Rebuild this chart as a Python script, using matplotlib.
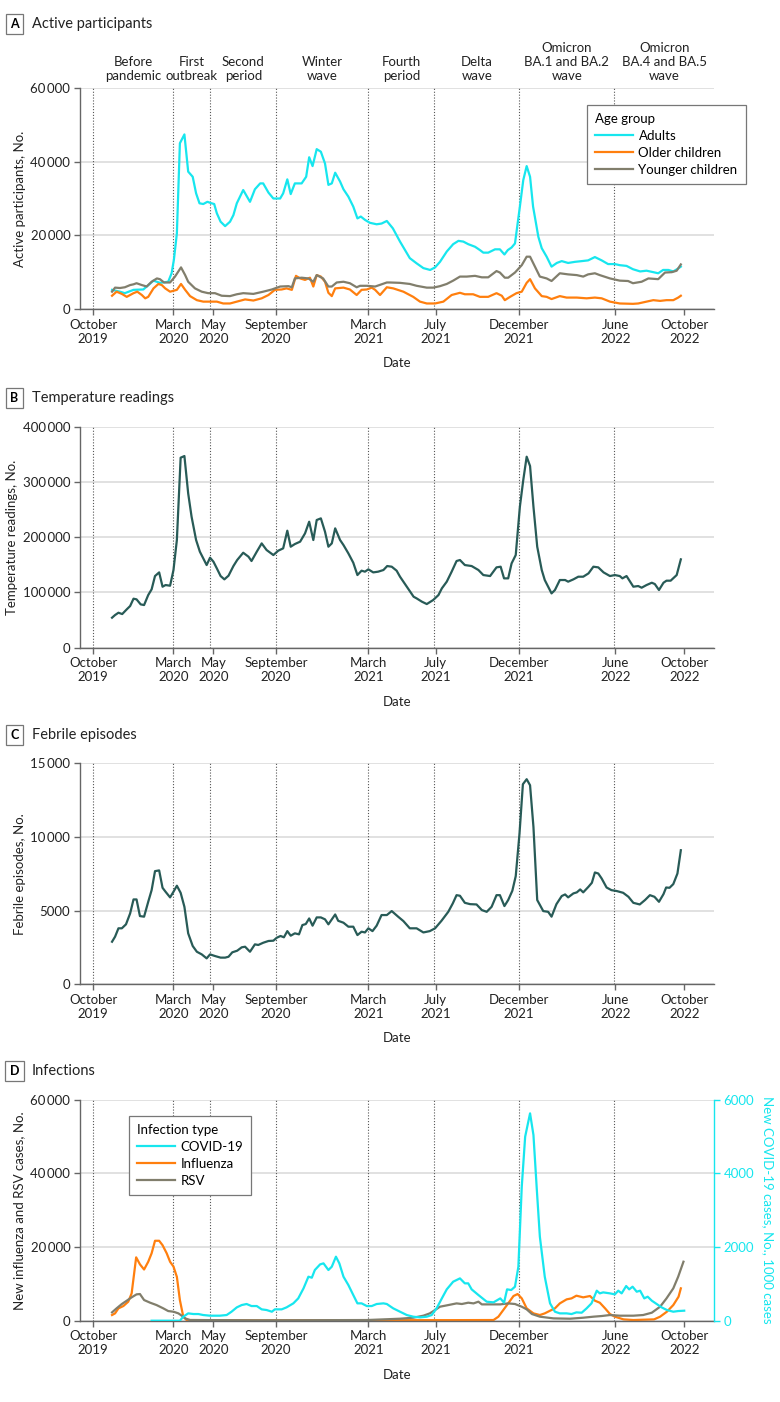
import numpy as np
import matplotlib.pyplot as plt
from matplotlib.ticker import FuncFormatter
from matplotlib.transforms import blended_transform_factory

plt.rcParams['font.family'] = ['Lato', 'DejaVu Sans']
plt.rcParams['font.size'] = 9.5

# x axis: weeks since the first weekly observation (late October 2019)
tick_wk = [-5.0, 16.3, 26.9, 43.5, 68.0, 85.9, 108.0, 133.5, 151.8]
tick_lab = ['October\n2019', 'March\n2020', 'May\n2020', 'September\n2020', 'March\n2021',
            'July\n2021', 'December\n2021', 'June\n2022', 'October\n2022']
period_wk = [-5.0, 16.3, 26.1, 43.6, 68.0, 85.5, 108.0, 133.3]
period_lab = ['Before\npandemic', 'First\noutbreak', 'Second\nperiod', 'Winter\nwave', 'Fourth\nperiod',
              'Delta\nwave', 'Omicron\nBA.1 and BA.2\nwave', 'Omicron\nBA.4 and BA.5\nwave']
XMIN, XMAX = -8.5, 159.7

# A: active participants
adults_wk = [0, 2.1, 3.4, 5.7, 8.3, 11.0, 12.7, 14.9, 15.8, 16.4, 17.2, 18.0, 19.2, 20.2, 21.4, 22.3, 23.2,
             24.2, 25.3, 26.4, 27.1, 27.8, 28.8, 30.0, 31.3, 32.2, 33.1, 34.8, 36.6, 37.9, 39.3, 40.1, 41.5,
             42.8, 44.6, 45.4, 46.5, 47.4, 48.5, 50.3, 51.5, 52.3, 53.2, 54.3, 55.4, 56.5, 57.4, 58.3, 59.2,
             60.5, 61.4, 62.7, 64.0, 65.1, 66.0, 67.1, 68.4, 70.2, 71.5, 72.9, 74.5, 76.4, 79.0, 80.8, 82.6,
             84.4, 85.7, 87.0, 88.8, 90.5, 91.9, 93.2, 94.5, 96.3, 97.6, 98.5, 99.8, 101.6, 102.9, 104.1,
             105.0, 106.0, 106.9, 108.2, 109.1, 110.0, 110.9, 111.7, 113.1, 114.0, 115.3, 116.6, 118.0,
             119.3, 121.0, 122.8, 124.6, 126.3, 128.1, 129.9, 131.6, 133.4, 134.7, 136.5, 138.2, 140.1,
             141.8, 143.6, 144.9, 146.2, 147.6, 148.9, 150.2, 150.9]
adults = [5200, 4700, 4300, 5200, 5300, 7700, 7100, 7400, 9700, 13300, 20500, 45000, 47400, 37300, 35900,
          31400, 28700, 28500, 29100, 28700, 28500, 26000, 23700, 22500, 23700, 25500, 28700, 32300, 29100,
          32500, 34100, 34100, 31600, 30000, 30000, 31400, 35200, 31200, 34100, 34100, 35900, 41200, 38800,
          43400, 42700, 39500, 33700, 34100, 37000, 34600, 32500, 30500, 27800, 24600, 25100, 24200, 23400,
          23000, 23200, 23900, 21900, 18300, 13800, 12400, 11100, 10600, 11300, 12800, 15600, 17600, 18500,
          18300, 17600, 16900, 16000, 15300, 15300, 16200, 16200, 14800, 16000, 16700, 17800, 27800, 35000,
          38800, 35900, 27800, 19600, 16500, 14200, 11500, 12500, 13000, 12500, 12800, 13000, 13200, 14100,
          13200, 12200, 12200, 11900, 11700, 10800, 10200, 10400, 10000, 9700, 10600, 10600, 10200, 11000,
          11500]
older_wk = [0, 1.2, 2.6, 3.9, 5.7, 6.7, 7.9, 8.8, 9.6, 11.0, 12.3, 13.2, 14.1, 15.4, 17.2, 18.3, 19.4, 20.7,
            22.5, 24.2, 26.0, 27.8, 29.5, 31.3, 33.1, 35.3, 37.5, 39.7, 41.5, 43.2, 45.0, 46.3, 47.7, 48.8,
            49.9, 51.2, 52.5, 53.4, 54.3, 55.4, 56.5, 57.4, 58.3, 59.2, 61.4, 63.1, 64.9, 66.2, 67.6, 68.9,
            69.8, 71.1, 72.9, 74.6, 77.3, 79.9, 81.7, 83.5, 85.7, 87.9, 90.1, 92.3, 93.6, 95.8, 97.6, 99.8,
            102.0, 103.4, 104.2, 105.6, 107.3, 108.7, 110.0, 110.9, 112.2, 114.0, 115.3, 116.6, 118.8, 120.6,
            123.3, 125.9, 128.1, 129.9, 132.1, 134.7, 138.2, 139.6, 141.8, 143.6, 145.4, 147.1, 148.9, 150.2,
            150.9]
older = [3600, 4700, 4100, 3300, 4300, 4700, 3800, 2900, 3300, 5600, 6800, 6500, 5600, 4700, 5200, 6800,
         5200, 3500, 2400, 2000, 2000, 2000, 1500, 1500, 2000, 2600, 2300, 2900, 3800, 5200, 5300, 5600, 5200,
         9000, 8300, 7900, 8500, 6100, 9200, 8800, 7400, 4400, 3500, 5600, 5800, 5300, 3800, 5200, 5300, 5800,
         5200, 3800, 5900, 5600, 4700, 3300, 2000, 1500, 1500, 2000, 3800, 4400, 4000, 4000, 3300, 3300, 4300,
         3600, 2400, 3300, 4300, 4700, 7100, 8100, 5600, 3500, 3300, 2700, 3500, 3100, 3100, 2900, 3100, 2900,
         2000, 1500, 1400, 1500, 2000, 2400, 2200, 2400, 2400, 3100, 3600]
younger_wk = [0, 0.8, 2.1, 3.4, 4.8, 5.7, 6.5, 7.9, 9.2, 10.5, 11.9, 12.7, 13.8, 15.4, 16.7, 18.3, 19.4, 20.2,
              22.0, 23.8, 25.5, 27.3, 29.1, 31.3, 33.1, 34.8, 37.5, 40.1, 42.4, 44.6, 46.8, 47.7, 48.5, 50.3,
              52.1, 53.4, 54.3, 56.0, 57.4, 58.3, 59.6, 61.4, 63.1, 64.9, 65.8, 67.6, 69.8, 71.5, 72.9, 73.7,
              76.4, 79.0, 80.8, 83.5, 85.2, 87.0, 88.8, 90.5, 92.3, 94.1, 96.3, 98.1, 99.8, 102.0, 102.9,
              104.2, 105.1, 106.9, 108.7, 110.0, 110.9, 112.2, 113.5, 115.3, 116.6, 118.8, 121.0, 123.3,
              125.0, 126.3, 128.1, 129.4, 132.1, 134.7, 136.9, 138.2, 140.5, 142.3, 144.9, 146.7, 148.5,
              149.8, 150.9]
younger = [4700, 5800, 5700, 5900, 6500, 6700, 7000, 6500, 6100, 7400, 8300, 8100, 7200, 7200, 8800, 11300,
           9200, 7400, 5600, 4700, 4300, 4300, 3600, 3500, 4000, 4300, 4100, 4700, 5300, 6100, 6200, 5900,
           8300, 8500, 8300, 7400, 9200, 8300, 6100, 6100, 7200, 7400, 7000, 5900, 6300, 6300, 6100, 6700,
           7200, 7200, 7100, 6800, 6300, 5800, 5800, 6200, 6800, 7700, 8800, 8800, 9000, 8600, 8600, 10300,
           9900, 8500, 8500, 9900, 11900, 14200, 14200, 11500, 8800, 8300, 7600, 9700, 9400, 9200, 8800, 9400,
           9700, 9200, 8300, 7700, 7600, 7000, 7400, 8300, 8100, 9900, 10000, 10400, 12100]

# B: temperature readings
temp_wk = [0, 0.8, 1.7, 2.7, 3.9, 4.8, 5.7, 6.5, 7.6, 8.5, 9.6, 10.5, 11.4, 12.5, 13.4, 14.2, 15.4, 16.3,
           17.2, 18.2, 19.2, 20.2, 21.1, 22.3, 23.3, 24.2, 25.1, 26.0, 26.9, 27.8, 28.8, 29.8, 30.9, 32.2,
           33.2, 34.8, 36.2, 37.0, 38.4, 39.7, 41.0, 42.8, 44.1, 45.4, 46.5, 47.4, 48.5, 49.9, 51.2, 52.3,
           53.4, 54.3, 55.4, 56.5, 57.4, 58.3, 59.2, 60.5, 61.4, 62.7, 64.0, 65.1, 66.2, 67.1, 68.0, 69.3,
           70.6, 72.0, 73.0, 74.2, 75.5, 76.4, 78.2, 80.0, 80.8, 82.2, 83.5, 85.2, 86.6, 87.5, 88.8, 90.1,
           91.4, 92.3, 93.6, 95.4, 97.2, 98.5, 100.3, 102.0, 103.1, 104.0, 105.1, 106.0, 107.1, 108.2, 109.1,
           110.0, 110.9, 111.8, 112.8, 114.0, 114.8, 115.7, 116.6, 117.5, 118.8, 120.2, 121.0, 122.4, 123.7,
           125.0, 126.4, 127.7, 129.0, 130.4, 132.1, 133.4, 134.7, 135.4, 136.5, 138.3, 139.6, 140.5, 141.8,
           143.2, 144.0, 145.1, 146.3, 147.1, 148.2, 149.8, 150.9]
temp = [54300, 59100, 63300, 60900, 69400, 75400, 88700, 87500, 78400, 77200, 95300, 105600, 129700, 136300,
        110400, 113400, 112200, 140600, 194900, 343900, 346900, 279300, 237100, 194900, 173800, 161700,
        149600, 162900, 155700, 143600, 129700, 123700, 130300, 147800, 158700, 171900, 164700, 156900,
        173800, 188800, 176800, 167700, 175600, 179800, 211800, 182800, 187600, 191900, 206900, 228000,
        194900, 231100, 234100, 209900, 182800, 188800, 216000, 194900, 185800, 170700, 153800, 131500,
        139400, 137600, 141800, 136300, 137600, 140600, 147800, 146600, 139400, 128500, 110400, 92300, 89300,
        83300, 79000, 86300, 95300, 107400, 119500, 137600, 156900, 158700, 149600, 147800, 140600, 131500,
        129700, 145400, 146600, 125500, 125500, 152600, 167700, 255200, 303500, 345700, 328800, 255200,
        182800, 140600, 122500, 110400, 98300, 104400, 122500, 122500, 119500, 123700, 128500, 128500,
        134500, 146600, 145400, 136300, 129700, 131500, 129700, 125500, 129700, 110400, 111600, 108600,
        113400, 117600, 115200, 104400, 117600, 121300, 121300, 131500, 159900]

# C: febrile episodes
feb_wk = [0, 0.8, 1.7, 2.6, 3.7, 4.8, 5.7, 6.5, 7.4, 8.5, 9.6, 10.5, 11.4, 12.5, 13.4, 14.2, 15.4, 16.3, 17.2,
          18.2, 19.2, 20.2, 21.4, 22.5, 23.8, 25.1, 26.0, 27.3, 28.8, 30.0, 30.9, 31.9, 33.2, 34.4, 35.3, 36.6,
          37.9, 38.8, 40.1, 41.5, 42.8, 43.7, 44.7, 45.6, 46.5, 47.4, 48.5, 49.6, 50.5, 51.4, 52.3, 53.2, 54.3,
          55.4, 56.5, 57.4, 59.2, 60.0, 61.4, 62.7, 64.0, 65.1, 66.2, 67.1, 68.0, 69.1, 70.2, 71.5, 72.9, 74.2,
          75.9, 77.3, 79.0, 80.8, 82.6, 84.3, 85.7, 87.4, 89.2, 90.4, 91.4, 92.3, 93.6, 95.0, 96.7, 98.1, 99.4,
          100.7, 102.0, 102.9, 104.1, 105.1, 106.2, 107.1, 108.1, 109.0, 110.0, 110.9, 111.8, 112.8, 114.4,
          115.7, 116.6, 117.9, 119.3, 120.2, 121.0, 122.4, 123.3, 124.2, 125.0, 126.4, 127.3, 128.1, 129.0,
          129.9, 131.2, 132.5, 133.9, 135.6, 137.0, 138.3, 140.0, 141.4, 142.7, 143.9, 145.1, 146.3, 147.0,
          147.9, 148.9, 150.0, 150.9]
feb = [2890, 3230, 3800, 3800, 4070, 4810, 5760, 5760, 4630, 4590, 5600, 6390, 7680, 7730, 6550, 6280, 5900,
       6280, 6690, 6210, 5260, 3460, 2600, 2210, 2030, 1760, 2030, 1920, 1810, 1810, 1870, 2170, 2280, 2510,
       2550, 2210, 2710, 2670, 2820, 2940, 2960, 3160, 3280, 3190, 3610, 3300, 3460, 3390, 4020, 4090, 4470,
       3980, 4540, 4540, 4410, 4070, 4740, 4310, 4180, 3910, 3910, 3340, 3570, 3520, 3800, 3610, 3980, 4700,
       4700, 4970, 4590, 4290, 3800, 3800, 3520, 3610, 3800, 4310, 4920, 5490, 6050, 6010, 5530, 5440, 5420,
       5040, 4920, 5260, 6050, 6050, 5310, 5720, 6350, 7340, 10230, 13580, 13920, 13510, 10680, 5720, 4970,
       4920, 4590, 5440, 5990, 6100, 5900, 6170, 6240, 6440, 6240, 6620, 6890, 7590, 7520, 7180, 6570, 6390,
       6330, 6210, 5940, 5530, 5420, 5720, 6050, 5940, 5600, 6120, 6570, 6550, 6800, 7520, 9100]

# D: infections (influenza and RSV on the left axis, COVID-19 on the right axis)
flu_wk = [0, 0.8, 1.7, 3.0, 4.3, 5.2, 6.4, 7.4, 8.5, 9.6, 10.5, 11.4, 12.5, 13.4, 14.5, 15.4, 16.3, 17.2, 18.0,
          18.9, 19.8, 40.0, 70.0, 90.0, 101.2, 102.5, 103.8, 105.1, 106.5, 107.6, 108.7, 110.0, 111.8, 113.5,
          114.8, 116.2, 117.5, 118.8, 120.6, 121.9, 123.2, 125.0, 126.8, 128.1, 129.4, 130.8, 132.1, 133.4,
          135.7, 138.3, 143.8, 145.4, 147.2, 148.9, 150.3, 150.9]
flu = [1540, 1990, 3350, 3980, 5160, 7420, 17200, 15300, 13900, 16000, 18300, 21700, 21700, 20500, 18300,
       16000, 14700, 11900, 5600, 1090, 180, 100, 150, 150, 180, 1090, 2900, 4700, 6700, 7240, 6060, 3350,
       1990, 1540, 1990, 2710, 3350, 4700, 5790, 6060, 6790, 6340, 6700, 5430, 4890, 3350, 1810, 1090, 360,
       180, 360, 1090, 2440, 4250, 6520, 8780]
rsv_wk = [0, 1.2, 2.6, 3.9, 5.2, 6.5, 7.4, 8.5, 10.1, 11.8, 13.6, 14.9, 16.3, 17.6, 18.5, 19.4, 20.7, 40.0,
          67.6, 76.4, 79.9, 82.6, 84.3, 85.7, 87.0, 88.8, 91.4, 92.8, 94.5, 95.9, 97.2, 98.1, 100.3, 103.0,
          105.1, 106.9, 108.7, 110.0, 111.4, 113.5, 117.1, 121.5, 125.0, 127.7, 129.9, 132.1, 134.7, 138.3,
          140.9, 143.2, 145.4, 147.1, 148.9, 150.2, 151.6]
rsv = [2260, 3350, 4530, 5430, 6340, 7150, 7240, 5610, 4890, 4250, 3350, 2620, 2440, 1990, 1360, 630, 180,
       100, 180, 540, 810, 1360, 1990, 2900, 3800, 4160, 4700, 4530, 4890, 4700, 5160, 4430, 4430, 4430, 4700,
       4530, 3800, 3080, 1810, 1090, 630, 540, 810, 1090, 1270, 1540, 1360, 1360, 1540, 2170, 3800, 6060,
       8780, 11950, 16020]
covid_wk = [10.5, 18.0, 18.9, 20.2, 21.6, 22.9, 24.2, 26.0, 28.6, 30.4, 31.7, 33.1, 34.4, 35.7, 37.0, 38.4,
            39.7, 41.0, 42.4, 43.2, 45.0, 46.3, 48.1, 49.4, 50.8, 52.1, 53.0, 53.8, 55.2, 56.1, 57.4, 58.3,
            59.4, 60.3, 61.4, 62.7, 64.0, 65.1, 66.2, 67.6, 68.9, 70.2, 72.0, 72.9, 74.6, 76.4, 78.2, 79.9,
            81.7, 83.5, 84.8, 86.1, 87.5, 88.8, 90.5, 92.3, 93.6, 94.5, 95.4, 97.2, 99.4, 101.2, 103.0, 104.0,
            104.8, 105.9, 106.9, 107.8, 108.7, 109.6, 110.9, 111.8, 112.7, 113.5, 114.8, 116.2, 117.5, 118.8,
            120.6, 121.9, 123.2, 124.6, 125.9, 127.2, 128.6, 129.4, 130.3, 132.1, 133.4, 134.3, 135.2, 136.4,
            137.2, 138.1, 139.2, 140.1, 141.2, 142.1, 143.2, 144.5, 145.8, 147.2, 148.9, 150.2, 151.8]
covid = [0, 0, 109, 199, 181, 181, 154, 136, 136, 154, 244, 362, 425, 453, 398, 398, 308, 290, 244, 308, 308,
         362, 471, 606, 878, 1195, 1167, 1376, 1529, 1557, 1376, 1466, 1738, 1557, 1195, 968, 697, 471, 471,
         398, 398, 453, 471, 453, 335, 244, 154, 109, 90, 109, 154, 335, 606, 851, 1059, 1149, 1014, 1014, 851,
         697, 516, 498, 606, 489, 851, 833, 923, 1466, 3638, 4996, 5629, 5041, 3548, 2281, 1195, 471, 244, 199,
         199, 181, 226, 217, 335, 471, 815, 742, 769, 742, 715, 815, 742, 941, 851, 923, 787, 815, 606, 652,
         543, 453, 362, 290, 244, 262, 272]

CYAN = '#17E6EE'
ORANGE = '#FF7F0E'
GRAY = '#817E6C'
TEAL = '#285B57'
LW = 1.6


def fmt(v, pos):
    s = f"{v:,.0f}"
    return s.replace(',', '\u2009') if v >= 10000 else s.replace(',', '')


def style(ax, ymax, ystep, ylabel, label_x):
    ax.set_xlim(XMIN, XMAX)
    ax.set_ylim(0, ymax)
    ax.set_yticks(np.arange(0, ymax + 1, ystep))
    ax.yaxis.set_major_formatter(FuncFormatter(fmt))
    ax.set_xticks(tick_wk)
    ax.set_xticklabels(tick_lab)
    ax.grid(axis='y', color='#dedede', lw=1.3)
    ax.set_axisbelow(True)
    for w in period_wk:
        ax.axvline(w, color='#555555', ls=(0, (1, 1.6)), lw=0.8, zorder=1)
    for s in ['top', 'right']:
        ax.spines[s].set_visible(False)
    for s in ['left', 'bottom']:
        ax.spines[s].set_color('#666666')
        ax.spines[s].set_linewidth(1.0)
    ax.tick_params(colors='#666666', labelcolor='#222222', length=4, width=1.0, labelsize=9.5, pad=3)
    ax.set_xlabel('Date', fontsize=9.5, color='#222222')
    ax.xaxis.set_label_coords(0.5, -0.245)
    ax.xaxis.label.set_va('center')
    ax.set_ylabel(ylabel, fontsize=9.5, color='#222222')
    ax.yaxis.set_label_coords(label_x, 0.5)
    ax.yaxis.label.set_va('center')


def panel_title(fig, y_px, letter, title):
    y = 1 - y_px / 1402
    fig.text(14.5 / 780, y, letter, ha='center', va='center', fontsize=9, fontweight='bold',
             bbox=dict(boxstyle='square,pad=0.35', fc='white', ec='#777777', lw=0.9))
    fig.text(32 / 780, y, title, ha='left', va='center', fontsize=10.5, color='#222222')


def legend(ax, handles, title, x_px, y_px):
    leg = ax.legend(handles=handles, title=title, loc='upper left',
                    bbox_to_anchor=(x_px / 780, 1 - y_px / 1402), bbox_transform=fig.transFigure,
                    frameon=True, fancybox=False, framealpha=1, edgecolor='#777777', fontsize=9.5,
                    title_fontsize=9.5, handlelength=2.9, handletextpad=0.4, labelspacing=0.38,
                    borderpad=0.6, borderaxespad=0, alignment='left')
    leg.get_frame().set_linewidth(0.9)
    return leg


fig = plt.figure(figsize=(7.8, 14.02), dpi=100)
L, W, H = 80 / 780, 634 / 780, 221 / 1402
axA = fig.add_axes([L, 1 - 309 / 1402, W, H])
axB = fig.add_axes([L, 1 - 647.7 / 1402, W, H])
axC = fig.add_axes([L, 1 - 984.3 / 1402, W, H])
axD = fig.add_axes([L, 1 - 1320.7 / 1402, W, H])

# Panel A
style(axA, 60000, 20000, 'Active participants, No.', -0.095)
ha, = axA.plot(adults_wk, adults, color=CYAN, lw=LW, label='Adults')
ho, = axA.plot(older_wk, older, color=ORANGE, lw=LW, label='Older children')
hy, = axA.plot(younger_wk, younger, color=GRAY, lw=LW, label='Younger children')
bounds = period_wk + [XMAX]
trans = blended_transform_factory(axA.transData, axA.transAxes)
for i, lab in enumerate(period_lab):
    axA.text((bounds[i] + bounds[i + 1]) / 2, 1.025, lab, transform=trans, ha='center', va='bottom',
             fontsize=9.5, color='#222222', linespacing=1.2)
legend(axA, [ha, ho, hy], 'Age group', 587, 105)
panel_title(fig, 24, 'A', 'Active participants')

# Panel B
style(axB, 400000, 100000, 'Temperature readings, No.', -0.107)
axB.plot(temp_wk, temp, color=TEAL, lw=LW)
panel_title(fig, 398, 'B', 'Temperature readings')

# Panel C
style(axC, 15000, 5000, 'Febrile episodes, No.', -0.095)
axC.plot(feb_wk, feb, color=TEAL, lw=LW)
panel_title(fig, 735, 'C', 'Febrile episodes')

# Panel D
style(axD, 60000, 20000, 'New influenza and RSV cases, No.', -0.096)
hf, = axD.plot(flu_wk, flu, color=ORANGE, lw=LW, label='Influenza')
hr, = axD.plot(rsv_wk, rsv, color=GRAY, lw=LW, label='RSV')
axD2 = axD.twinx()
axD2.set_xlim(XMIN, XMAX)
axD2.set_ylim(0, 6000)
axD2.set_yticks([0, 2000, 4000, 6000])
hc, = axD2.plot(covid_wk, covid, color=CYAN, lw=LW, label='COVID-19')
for s in ['top', 'left', 'bottom']:
    axD2.spines[s].set_visible(False)
axD2.spines['right'].set_color(CYAN)
axD2.spines['right'].set_linewidth(1.0)
axD2.tick_params(colors=CYAN, labelcolor=CYAN, length=4, width=1.0, labelsize=9.5, pad=3)
axD2.set_ylabel('New COVID-19 cases, No., 1000 cases', color=CYAN, fontsize=9.5, rotation=270)
axD2.yaxis.set_label_coords(1.085, 0.5)
axD2.yaxis.label.set_va('center')
legend(axD2, [hc, hf, hr], 'Infection type', 129, 1116)
panel_title(fig, 1071, 'D', 'Infections')

fig.savefig('out.png', dpi=100)
